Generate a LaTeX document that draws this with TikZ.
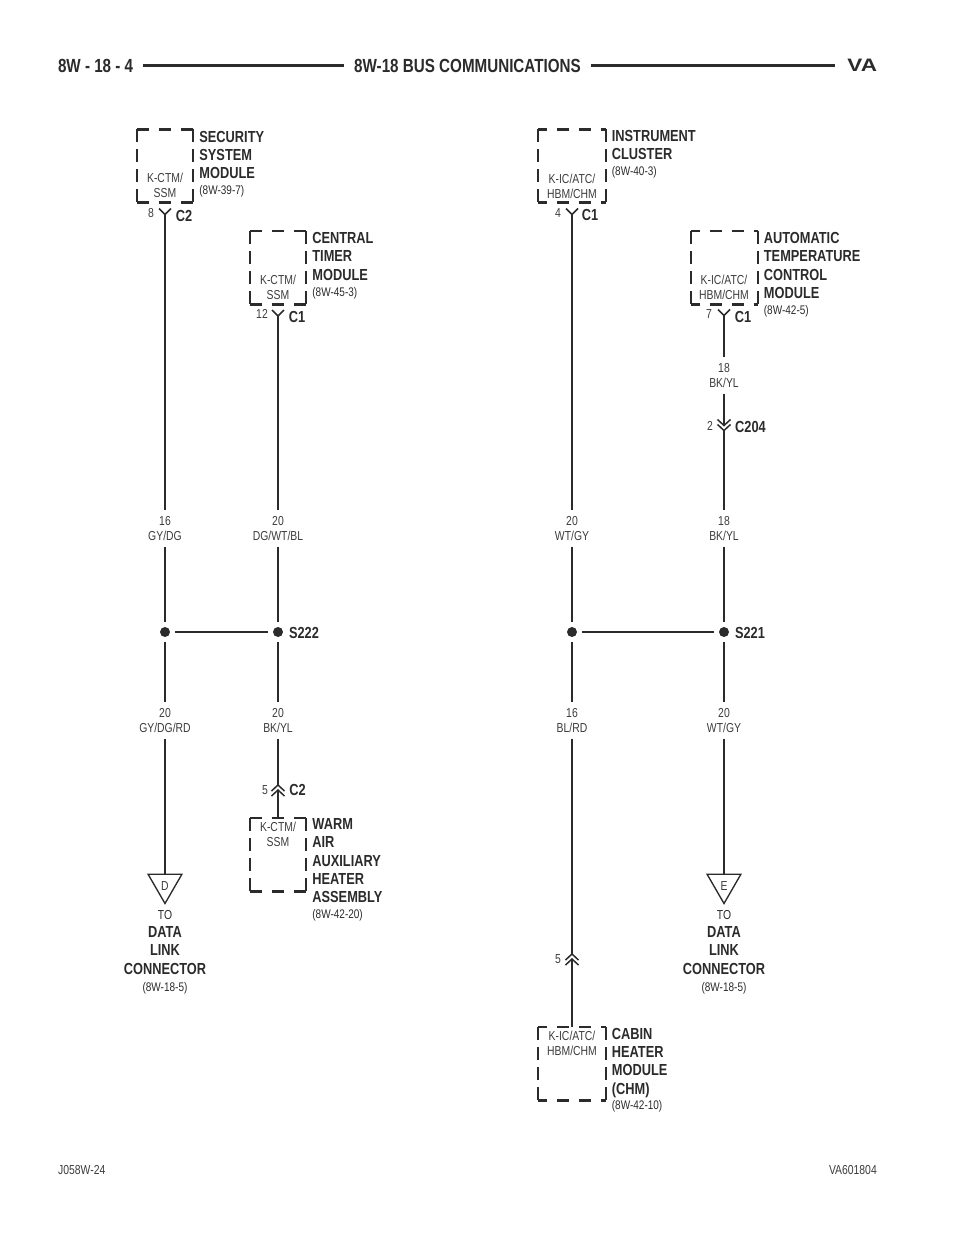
\documentclass[tikz,border=0pt]{standalone}
\usepackage{fontspec}
\setmainfont[FakeStretch=0.8]{Liberation Sans}
\newfontfamily\vafont[FakeStretch=1.25]{Liberation Sans}
\usetikzlibrary{shapes.geometric}
\definecolor{ink}{HTML}{2B2B2B}
\definecolor{thinink}{HTML}{3C3C3C}
\newcommand{\refpg}[1]{{\mdseries\fontsize{12.5}{15}\selectfont #1}}
\tikzset{
	wire/.style={draw=ink,line width=1.5pt},
	hdash/.style={draw=ink,line width=2.6pt,dash pattern=on 12pt off 10pt},
	vdash/.style={draw=ink,line width=2.4pt,dash pattern=on 13pt off 7pt},
	modbox/.style={inner sep=0pt},
	title/.style={inner sep=0pt,anchor=north west,align=left,text=ink,font=\bfseries\fontsize{16}{18.3}\selectfont},
	totitle/.style={inner sep=0pt,anchor=north,align=center,text=ink,font=\bfseries\fontsize{16}{18.3}\selectfont},
	thintext/.style={inner sep=0pt,align=center,text=thinink,font=\fontsize{13}{15}\selectfont},
	gauge/.style={thintext,minimum height=36pt},
	conn/.style={inner sep=0pt,text=ink,font=\bfseries\fontsize{16}{18}\selectfont},
	splice/.style={circle,fill=ink,inner sep=0pt,minimum size=10pt,outer sep=5pt},
	spliceline/.style={draw=ink,line width=2.6pt},
	hrule/.style={draw=ink,line width=2.4pt},
	totri/.style={draw=ink,line width=1.35pt,regular polygon,regular polygon sides=3,shape border rotate=180,inner sep=0pt,minimum size=39pt},
}
\begin{document}
\begin{tikzpicture}[x=1pt,y=-1pt]
	\useasboundingbox (0,0) rectangle (960,1242);
	% page header
	\node[conn,anchor=west,font=\bfseries\fontsize{19}{20}\selectfont,outer sep=10pt] (hpage) at (48,65.5) {8W - 18 - 4};
	\node[conn,font=\bfseries\fontsize{19}{20}\selectfont,outer sep=10pt] (htitle) at (467.5,65.5) {8W-18 BUS COMMUNICATIONS};
	\node[conn,anchor=east,font=\vafont\bfseries\fontsize{18}{20}\selectfont,outer sep=12pt] (hva) at (889,65.5) {VA};
	\draw[hrule] (hpage.east)--(htitle.west);
	\draw[hrule] (htitle.east)--(hva.west);
	\node[thintext,anchor=west] (fleft) at (58,1170) {J058W-24};
	\node[thintext,anchor=east] (fright) at (877,1170) {VA601804};
	% modules
	\foreach \name/\x/\y/\w/\h/\ph in {secbox/165/166/56/73/0,cenbox/278/267.5/56/73/0,warmbox/278/854.5/56/73/0,insbox/572/166/68/73/3,autobox/724.5/267.5/67/73/3,cabbox/572/1063.5/68/73/3}{
		\node[modbox,minimum width=\w pt,minimum height=\h pt] (\name) at (\x,\y) {};
		\draw[hdash,dash phase=\ph pt] (\name.north west)--(\name.north east);
		\draw[hdash,dash phase=\ph pt] (\name.south west)--(\name.south east);
		\draw[vdash] (\name.north west)--(\name.south west);
		\draw[vdash] (\name.north east)--(\name.south east);
	}
	\node[thintext] (secname) at (165,185.5) {K-CTM/\\SSM};
	\node[thintext] (cenname) at (278,287) {K-CTM/\\SSM};
	\node[thintext] (warmname) at (278,834) {K-CTM/\\SSM};
	\node[thintext] (insname) at (572,186) {K-IC/ATC/\\HBM/CHM};
	\node[thintext] (autoname) at (724,287) {K-IC/ATC/\\HBM/CHM};
	\node[thintext] (cabname) at (572,1043) {K-IC/ATC/\\HBM/CHM};
	\node[title] (sectitle) at ([shift={(6,1.5)}]secbox.north east) {SECURITY\\SYSTEM\\MODULE\\[-2.5pt]\refpg{(8W-39-7)}};
	\node[title] (centitle) at ([shift={(6,1.5)}]cenbox.north east) {CENTRAL\\TIMER\\MODULE\\[-2.5pt]\refpg{(8W-45-3)}};
	\node[title] (warmtitle) at ([shift={(6,0.5)}]warmbox.north east) {WARM\\AIR\\AUXILIARY\\HEATER\\ASSEMBLY\\[-2.5pt]\refpg{(8W-42-20)}};
	\node[title] (institle) at ([shift={(5.5,0.5)}]insbox.north east) {INSTRUMENT\\CLUSTER\\[-2.5pt]\refpg{(8W-40-3)}};
	\node[title] (autotitle) at ([shift={(5.5,1.5)}]autobox.north east) {AUTOMATIC\\TEMPERATURE\\CONTROL\\MODULE\\[-2.5pt]\refpg{(8W-42-5)}};
	\node[title] (cabtitle) at ([shift={(5.5,1)}]cabbox.north east) {CABIN\\HEATER\\MODULE\\(CHM)\\[-2.5pt]\refpg{(8W-42-10)}};
	% pins
	\foreach \name/\x/\y in {pinsec/165/214.5,pincen/278/316,pinins/572/214.5,pinauto/724/315.5}{
		\coordinate (\name) at (\x,\y);
		\draw[wire] (\x-6,\y-6)--(\name)--(\x+6,\y-6);
	}
	\foreach \name/\x/\y in {pinwarm/278/785,pincab/572/954}{
		\coordinate (\name) at (\x,\y);
		\coordinate (\name b) at (\x,\y+5);
		\draw[wire] (\x-6.5,\y+6)--(\name)--(\x+6.5,\y+6);
		\draw[wire] (\x-6.5,\y+11)--(\name b)--(\x+6.5,\y+11);
	}
	\coordinate (pinbk) at (724,425.5);
	\coordinate (pinbkb) at (724,430.5);
	\draw[wire] (717.5,419.5)--(pinbk)--(730.5,419.5);
	\draw[wire] (717.5,424.5)--(pinbkb)--(730.5,424.5);
	\node[thintext] (nsec) at (151,213) {8};
	\node[thintext] (ncen) at (262,314) {12};
	\node[thintext] (nins) at (558,213) {4};
	\node[thintext] (nauto) at (709,314) {7};
	\node[thintext] (nbk) at (710,426) {2};
	\node[thintext] (nwarm) at (265,790.5) {5};
	\node[thintext] (ncab) at (558,959) {5};
	\node[conn] (csec) at (184,215.5) {C2};
	\node[conn] (ccen) at (297,316.5) {C1};
	\node[conn] (cins) at (590,214.5) {C1};
	\node[conn] (cauto) at (743,316.5) {C1};
	\node[conn] (cbk) at (750.5,427) {C204};
	\node[conn] (cwarm) at (297.5,790) {C2};
	% wire colours
	\node[gauge] (g16a) at (165,528.5) {16\\GY/DG};
	\node[gauge] (g20a) at (278,528.5) {20\\DG/WT/BL};
	\node[gauge] (g20b) at (572,528.5) {20\\WT/GY};
	\node[gauge] (g18b) at (724,528.5) {18\\BK/YL};
	\node[gauge] (g18a) at (724,375.5) {18\\BK/YL};
	\node[gauge] (g20c) at (165,720.5) {20\\GY/DG/RD};
	\node[gauge] (g20d) at (278,720.5) {20\\BK/YL};
	\node[gauge] (g16b) at (572,720.5) {16\\BL/RD};
	\node[gauge] (g20e) at (724,720.5) {20\\WT/GY};
	% splices
	\node[splice] (s1) at (165,632) {};
	\node[splice] (s222) at (278,632) {};
	\node[splice] (s2) at (572,632) {};
	\node[splice] (s221) at (724,632) {};
	\node[conn] (ts222) at (304,632.5) {S222};
	\node[conn] (ts221) at (750,632.5) {S221};
	\draw[spliceline] (s1)--(s222);
	\draw[spliceline] (s2)--(s221);
	% triangles and their targets
	\node[totri] (trid) at (165,884) {};
	\node[totri] (trie) at (724,884) {};
	\node[thintext] (dmark) at (165,886) {D};
	\node[thintext] (emark) at (724,886) {E};
	\node[totitle] (tod) at (165,910) {\refpg{\fontsize{13}{15}\selectfont TO}\\DATA\\LINK\\CONNECTOR\\[-1pt]\refpg{(8W-18-5)}};
	\node[totitle] (toe) at (724,910) {\refpg{\fontsize{13}{15}\selectfont TO}\\DATA\\LINK\\CONNECTOR\\[-1pt]\refpg{(8W-18-5)}};
	% wires
	\draw[wire] (pinsec)--(g16a.north);
	\draw[wire] (g16a.south)--(s1);
	\draw[wire] (s1)--(g20c.north);
	\draw[wire] (g20c.south)--(trid.north);
	\draw[wire] (pincen)--(g20a.north);
	\draw[wire] (g20a.south)--(s222);
	\draw[wire] (s222)--(g20d.north);
	\draw[wire] (g20d.south)--(pinwarm);
	\draw[wire] (pinwarmb)--(warmbox.north);
	\draw[wire] (pinins)--(g20b.north);
	\draw[wire] (g20b.south)--(s2);
	\draw[wire] (s2)--(g16b.north);
	\draw[wire] (g16b.south)--(pincab);
	\draw[wire] (pincabb)--(cabbox.north);
	\draw[wire] (pinauto)--(g18a.north);
	\draw[wire] (g18a.south)--(pinbk);
	\draw[wire] (pinbkb)--(g18b.north);
	\draw[wire] (g18b.south)--(s221);
	\draw[wire] (s221)--(g20e.north);
	\draw[wire] (g20e.south)--(trie.north);
\end{tikzpicture}
\end{document}
